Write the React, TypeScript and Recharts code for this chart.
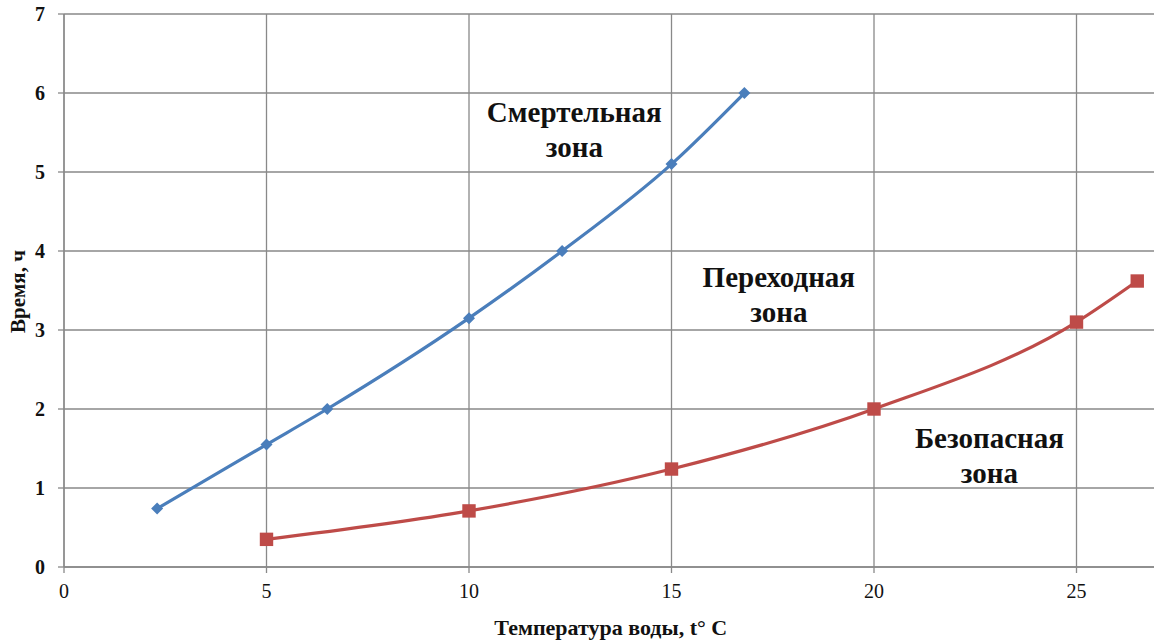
import React from "react";
import {
  LineChart,
  Line,
  XAxis,
  YAxis,
  CartesianGrid,
  ReferenceDot,
  Label,
} from "recharts";

// Смертельная граница (верхняя кривая)
const lethalTemp = [2.3, 5, 6.5, 10, 12.3, 15, 16.8];
const lethalTime = [0.74, 1.55, 2.0, 3.15, 4.0, 5.1, 6.0];

// Безопасная граница (нижняя кривая)
const safeTemp = [5, 10, 15, 20, 25, 26.5];
const safeTime = [0.35, 0.71, 1.24, 2.0, 3.1, 3.62];

const xTicks = [0, 5, 10, 15, 20, 25];
const yTicks = [0, 1, 2, 3, 4, 5, 6, 7];

const zoneLabels = [
  { x: 12.6, y: 5.53, lines: ["Смертельная", "зона"] },
  { x: 17.65, y: 3.44, lines: ["Переходная", "зона"] },
  { x: 22.85, y: 1.4, lines: ["Безопасная", "зона"] },
];

const lethalData = lethalTemp.map((t, i) => ({ t, v: lethalTime[i] }));
const safeData = safeTemp.map((t, i) => ({ t, v: safeTime[i] }));

const SERIF = "Liberation Serif";
const GRID = "#898989";

const Diamond = (props: any) => {
  const { cx, cy } = props;
  if (cx == null || cy == null) return null;
  const r = 6;
  return (
    <path
      d={`M${cx},${cy - r}L${cx + r},${cy}L${cx},${cy + r}L${cx - r},${cy}Z`}
      fill="#4a7ebb"
    />
  );
};

const Square = (props: any) => {
  const { cx, cy } = props;
  if (cx == null || cy == null) return null;
  const s = 6.7;
  return <rect x={cx - s} y={cy - s} width={s * 2} height={s * 2} fill="#be4b48" />;
};

const ZoneText = ({ viewBox, lines }: any) => {
  if (!viewBox) return null;
  const cx = viewBox.x + (viewBox.width || 0) / 2;
  const cy = viewBox.y + (viewBox.height || 0) / 2;
  return (
    <text
      x={cx}
      y={cy - 17}
      textAnchor="middle"
      fontFamily={SERIF}
      fontWeight="bold"
      fontSize={29}
      fill="#111"
    >
      {lines.map((l: string, i: number) => (
        <tspan key={i} x={cx} dy={i === 0 ? 9 : 35}>
          {l}
        </tspan>
      ))}
    </text>
  );
};

export default function App() {
  return (
    <div
      style={{
        position: "absolute",
        left: 0,
        top: 0,
        width: 1154,
        height: 641,
        overflow: "hidden",
        background: "#fff",
        fontFamily: SERIF,
      }}
    >
      <LineChart
        width={1160}
        height={641}
        margin={{ top: 14, right: 2.5, bottom: 44, left: 0 }}
      >
        <CartesianGrid stroke={GRID} strokeWidth={1.3} />
        <XAxis
          type="number"
          dataKey="t"
          domain={[0, 27]}
          ticks={xTicks}
          height={30}
          stroke={GRID}
          strokeWidth={1.3}
          tickSize={6}
          tickMargin={11}
          tick={{ fontFamily: SERIF, fontSize: 20, fill: "#111" }}
        >
          <Label
            value="Температура воды, t° C"
            position="bottom"
            offset={22}
            fontFamily={SERIF}
            fontWeight="bold"
            fontSize={22}
            fill="#111"
          />
        </XAxis>
        <YAxis
          type="number"
          domain={[0, 7]}
          ticks={yTicks}
          width={64}
          stroke={GRID}
          strokeWidth={1.3}
          tickSize={6}
          tickMargin={13}
          tick={{ fontFamily: SERIF, fontWeight: "bold", fontSize: 20, fill: "#111" }}
        >
          <Label
            value="Время, ч"
            angle={-90}
            position="insideLeft"
            offset={18}
            dy={1}
            fontFamily={SERIF}
            fontWeight="bold"
            fontSize={21}
            fill="#111"
            style={{ textAnchor: "middle" }}
          />
        </YAxis>
        <Line
          data={lethalData}
          dataKey="v"
          type="monotone"
          stroke="#4a7ebb"
          strokeWidth={3.2}
          dot={<Diamond />}
          activeDot={false}
          isAnimationActive={false}
        />
        <Line
          data={safeData}
          dataKey="v"
          type="monotone"
          stroke="#be4b48"
          strokeWidth={3.2}
          dot={<Square />}
          activeDot={false}
          isAnimationActive={false}
        />
        {zoneLabels.map((z, i) => (
          <ReferenceDot
            key={i}
            x={z.x}
            y={z.y}
            r={0}
            fill="none"
            stroke="none"
            label={<ZoneText lines={z.lines} />}
          />
        ))}
      </LineChart>
    </div>
  );
}
